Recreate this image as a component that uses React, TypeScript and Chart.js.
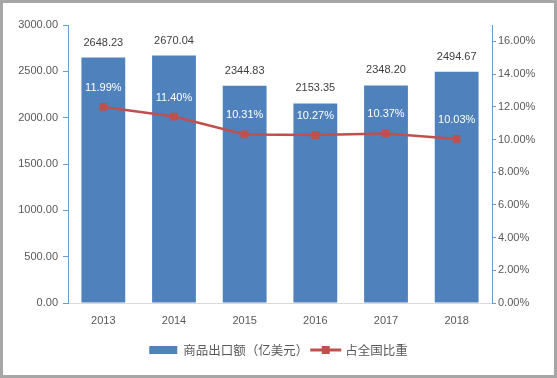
import React, { useEffect, useRef } from "react";
import { Chart, registerables } from "chart.js";

Chart.register(...registerables);

const years = ["2013", "2014", "2015", "2016", "2017", "2018"];
const exportValues = [2648.23, 2670.04, 2344.83, 2153.35, 2348.2, 2494.67];
const shareValues = [11.99, 11.4, 10.31, 10.27, 10.37, 10.03];
const exportLabel = "商品出口额（亿美元）";
const shareLabel = "占全国比重";
const leftMax = 3000;
const leftStep = 500;
const rightMax = 17;
const rightStep = 2;

const BAR_COLOR = "#4F81BD";
const LINE_COLOR = "#C0504D";
const TEXT_COLOR = "#595959";
const AXIS_COLOR = "#6F9AD0";
const NUM_FONT = "'Liberation Sans', Arial, sans-serif";
const CJK_FONT = "'Noto Sans CJK SC', sans-serif";

const labelPlugin = {
  id: "valueLabels",
  afterDatasetsDraw(chart: any) {
    const ctx = chart.ctx;
    ctx.save();
    ctx.textAlign = "center";
    ctx.textBaseline = "middle";
    ctx.font = `11px ${NUM_FONT}`;
    const barMeta = chart.getDatasetMeta(0);
    barMeta.data.forEach((el: any, i: number) => {
      ctx.fillStyle = "#404040";
      ctx.fillText(exportValues[i].toFixed(2), el.x, el.y - 15);
    });
    const lineMeta = chart.getDatasetMeta(1);
    lineMeta.data.forEach((el: any, i: number) => {
      ctx.fillStyle = "#FFFFFF";
      ctx.fillText(shareValues[i].toFixed(2) + "%", el.x, el.y - 19);
    });
    ctx.restore();
  },
  afterDraw(chart: any) {
    const ctx = chart.ctx;
    ctx.save();
    ctx.font = `12.5px ${CJK_FONT}`;
    ctx.textBaseline = "middle";
    ctx.textAlign = "left";
    const w1 = ctx.measureText(exportLabel).width;
    const w2 = ctx.measureText(shareLabel).width;
    const sw1 = 28, gap1 = 6, sw2 = 31, gap2 = 4, between = 2;
    const total = sw1 + gap1 + w1 + between + sw2 + gap2 + w2;
    let x = chart.width / 2 - total / 2;
    const y = 347;
    ctx.fillStyle = BAR_COLOR;
    ctx.fillRect(x, y - 4, sw1, 8);
    x += sw1 + gap1;
    ctx.fillStyle = TEXT_COLOR;
    ctx.fillText(exportLabel, x, y);
    x += w1 + between;
    ctx.strokeStyle = LINE_COLOR;
    ctx.lineWidth = 3;
    ctx.beginPath();
    ctx.moveTo(x, y);
    ctx.lineTo(x + sw2, y);
    ctx.stroke();
    ctx.fillStyle = LINE_COLOR;
    ctx.fillRect(x + sw2 / 2 - 4, y - 4, 8, 8);
    x += sw2 + gap2;
    ctx.fillStyle = TEXT_COLOR;
    ctx.fillText(shareLabel, x, y);
    ctx.restore();
  },
};

export default function App() {
  const ref = useRef<HTMLCanvasElement>(null);
  useEffect(() => {
    if (!ref.current) return;
    const chart = new Chart(ref.current, {
      type: "bar",
      data: {
        labels: years,
        datasets: [
          {
            type: "bar",
            label: exportLabel,
            data: exportValues,
            backgroundColor: BAR_COLOR,
            yAxisID: "y",
            order: 1,
            categoryPercentage: 1,
            barPercentage: 0.62,
          },
          {
            type: "line",
            label: shareLabel,
            data: shareValues,
            borderColor: LINE_COLOR,
            backgroundColor: LINE_COLOR,
            borderWidth: 2.5,
            pointStyle: "rect",
            pointRadius: 5.5,
            pointBorderWidth: 0,
            yAxisID: "y1",
            order: 0,
            tension: 0,
          },
        ],
      } as any,
      options: {
        responsive: false,
        maintainAspectRatio: false,
        animation: false,
        layout: { padding: { top: 22, left: 0, right: 0, bottom: 0 } },
        plugins: { legend: { display: false }, tooltip: { enabled: false } },
        scales: {
          x: {
            grid: { display: false, drawTicks: false },
            border: { color: "#D9D9D9", width: 1 },
            ticks: { color: TEXT_COLOR, font: { size: 11, family: NUM_FONT }, padding: 11 },
            afterFit(scale: any) {
              scale.height = 72;
            },
          },
          y: {
            position: "left",
            min: 0,
            max: leftMax,
            ticks: {
              stepSize: leftStep,
              color: TEXT_COLOR,
              font: { size: 11, family: NUM_FONT },
              padding: 5,
              callback: (v: any) => Number(v).toFixed(2),
            },
            grid: { drawOnChartArea: false, drawTicks: true, tickLength: 5, color: AXIS_COLOR },
            border: { color: AXIS_COLOR, width: 1 },
            afterFit(scale: any) {
              scale.width = 65;
            },
          },
          y1: {
            position: "right",
            min: 0,
            max: rightMax,
            ticks: {
              stepSize: rightStep,
              color: TEXT_COLOR,
              font: { size: 11, family: NUM_FONT },
              padding: 2,
              callback: (v: any) => Number(v).toFixed(2) + "%",
            },
            afterBuildTicks(scale: any) {
              scale.ticks = scale.ticks.filter((t: any) => t.value % rightStep === 0);
            },
            grid: { drawOnChartArea: false, drawTicks: true, tickLength: 4, color: AXIS_COLOR },
            border: { color: AXIS_COLOR, width: 1 },
            afterFit(scale: any) {
              scale.width = 62;
            },
          },
        },
      } as any,
      plugins: [labelPlugin],
    });
    return () => chart.destroy();
  }, []);

  return (
    <div
      style={{
        position: "absolute",
        left: 0,
        top: 0,
        width: 557,
        height: 378,
        boxSizing: "border-box",
        border: "3px solid #A6A6A6",
        background: "#FFFFFF",
      }}
    >
      <canvas ref={ref} width={551} height={372} style={{ display: "block", width: 551, height: 372 }} />
    </div>
  );
}
